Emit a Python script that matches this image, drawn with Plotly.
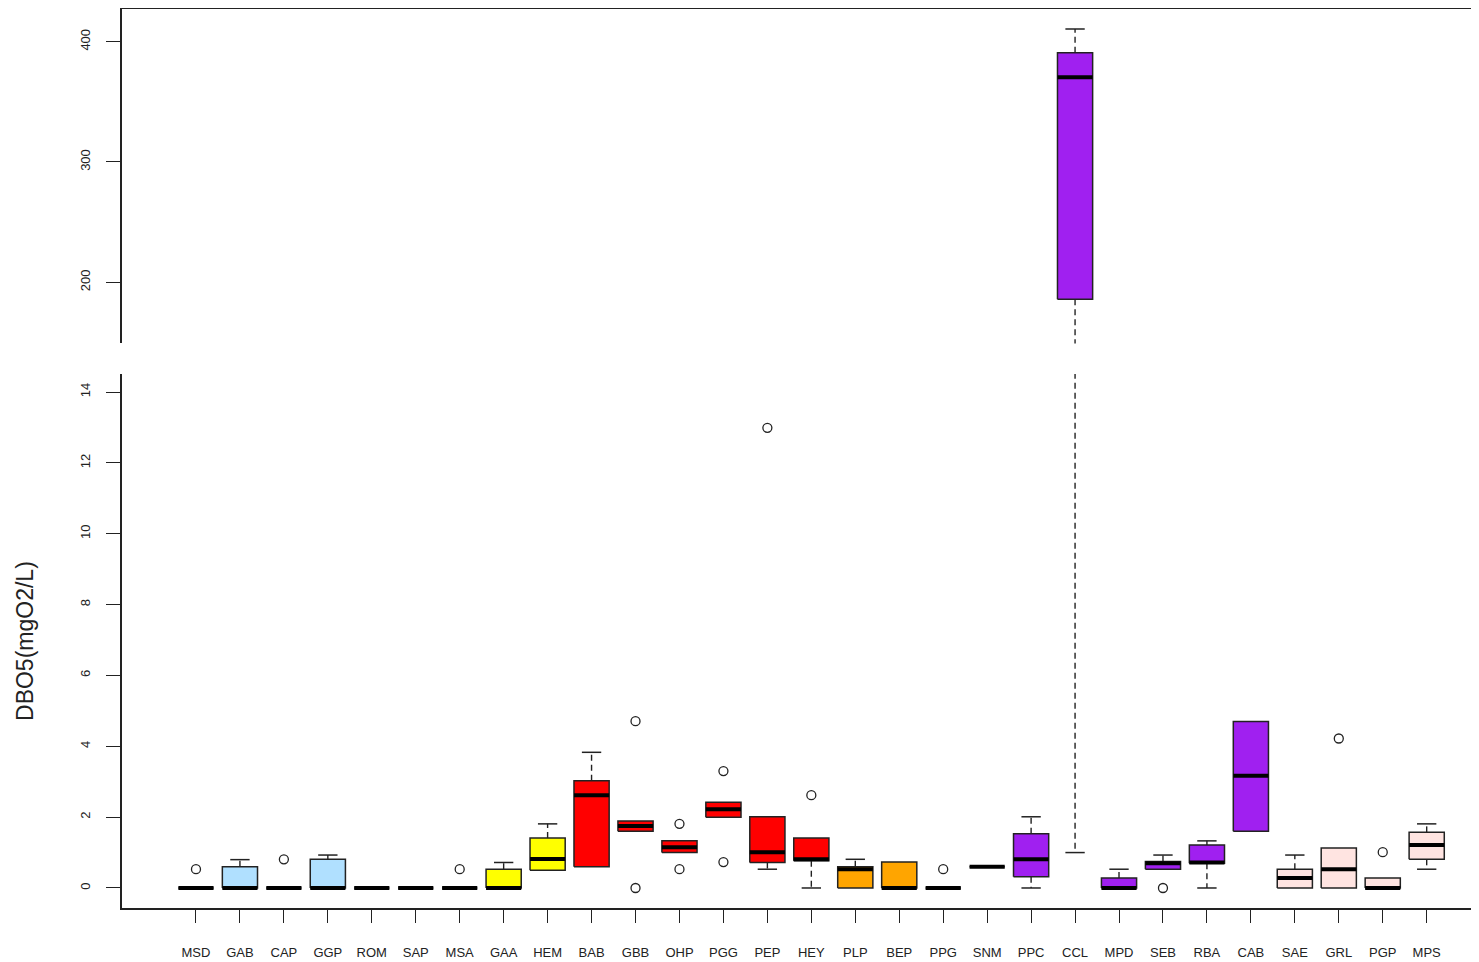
import plotly.graph_objects as go

# ---------------- data ----------------
categories = ["MSD", "GAB", "CAP", "GGP", "ROM", "SAP", "MSA", "GAA", "HEM", "BAB",
              "GBB", "OHP", "PGG", "PEP", "HEY", "PLP", "BEP", "PPG", "SNM", "PPC",
              "CCL", "MPD", "SEB", "RBA", "CAB", "SAE", "GRL", "PGP", "MPS"]

group = ["blue", "blue", "blue", "blue", "yellow", "yellow", "yellow", "yellow", "yellow", "red",
         "red", "red", "red", "red", "red", "orange", "orange", "orange", "purple", "purple",
         "purple", "purple", "purple", "purple", "purple", "pink", "pink", "pink", "pink"]

lower_whisker = [0, 0, 0, 0, 0, 0, 0, 0, 0.5, 0.6,
                 1.6, 1.0, 2.0, 0.53, 0, 0, 0, 0, 0.6, 0,
                 1.0, 0, 0.53, 0, 1.6, 0, 0, 0, 0.53]
q1 = [0, 0, 0, 0, 0, 0, 0, 0, 0.5, 0.6,
      1.6, 1.0, 2.0, 0.72, 0.77, 0, 0, 0, 0.6, 0.32,
      185.9, 0, 0.53, 0.7, 1.6, 0, 0, 0, 0.81]
median = [0, 0, 0, 0, 0, 0, 0, 0, 0.82, 2.62,
          1.75, 1.15, 2.22, 1.01, 0.81, 0.53, 0, 0, 0.6, 0.81,
          370.4, 0, 0.7, 0.72, 3.17, 0.28, 0.53, 0, 1.21]
q3 = [0, 0.6, 0, 0.81, 0, 0, 0, 0.53, 1.41, 3.03,
      1.89, 1.33, 2.42, 2.01, 1.41, 0.6, 0.73, 0, 0.6, 1.53,
      390.9, 0.28, 0.75, 1.21, 4.7, 0.53, 1.13, 0.28, 1.57]
upper_whisker = [0, 0.8, 0, 0.93, 0, 0, 0, 0.72, 1.81, 3.83,
                 1.89, 1.33, 2.42, 2.01, 1.41, 0.81, 0.73, 0, 0.6, 2.01,
                 410.6, 0.53, 0.93, 1.33, 4.7, 0.93, 1.13, 0.28, 1.81]
outliers = [[0.53], [], [0.81], [], [], [], [0.53], [], [], [],
            [4.71, 0], [1.81, 0.53], [3.3, 0.73], [12.99], [2.62], [], [], [0.53], [], [],
            [], [], [0], [], [], [], [4.22], [1.01], []]

lower_ticks = [0, 2, 4, 6, 8, 10, 12, 14]
upper_ticks = [200, 300, 400]
y_title = "DBO5(mgO2/L)"

# ---------------- styles ----------------
palette = {"blue": "#B0E0FF", "yellow": "#FFFF00", "red": "#FF0000",
           "orange": "#FFA500", "purple": "#A020F0", "pink": "#FFE4E1"}
INK = "#222222"
BOX_HALF = 0.4
STAPLE_HALF = 0.22
FONT = "Liberation Sans, Arial, sans-serif"

positions = list(range(1, len(categories) + 1))
x_range = [-0.683, 30.19]

fig = go.Figure()


def add_panel(xa, ya):
    # boxes, one trace per colour group
    for gname, colr in palette.items():
        xs, ys = [], []
        for i, p in enumerate(positions):
            if group[i] != gname:
                continue
            xs += [p - BOX_HALF, p + BOX_HALF, p + BOX_HALF, p - BOX_HALF, p - BOX_HALF, None]
            ys += [q1[i], q1[i], q3[i], q3[i], q1[i], None]
        if xs:
            fig.add_trace(go.Scatter(x=xs, y=ys, mode="lines", fill="toself", fillcolor=colr,
                                     line=dict(color=INK, width=1.5), xaxis=xa, yaxis=ya,
                                     hoverinfo="skip", showlegend=False))
    # whiskers (dashed) and staples
    wx, wy, sx, sy = [], [], [], []
    for i, p in enumerate(positions):
        if upper_whisker[i] > q3[i]:
            wx += [p, p, None]
            wy += [q3[i], upper_whisker[i], None]
            sx += [p - STAPLE_HALF, p + STAPLE_HALF, None]
            sy += [upper_whisker[i], upper_whisker[i], None]
        if lower_whisker[i] < q1[i]:
            wx += [p, p, None]
            wy += [q1[i], lower_whisker[i], None]
            sx += [p - STAPLE_HALF, p + STAPLE_HALF, None]
            sy += [lower_whisker[i], lower_whisker[i], None]
    fig.add_trace(go.Scatter(x=wx, y=wy, mode="lines", line=dict(color=INK, width=1.4, dash="6px,4px"),
                             xaxis=xa, yaxis=ya, hoverinfo="skip", showlegend=False))
    fig.add_trace(go.Scatter(x=sx, y=sy, mode="lines", line=dict(color=INK, width=1.5),
                             xaxis=xa, yaxis=ya, hoverinfo="skip", showlegend=False))
    # medians
    mx, my = [], []
    for i, p in enumerate(positions):
        mx += [p - BOX_HALF, p + BOX_HALF, None]
        my += [median[i], median[i], None]
    fig.add_trace(go.Scatter(x=mx, y=my, mode="lines", line=dict(color="black", width=4),
                             xaxis=xa, yaxis=ya, hoverinfo="skip", showlegend=False))
    # outliers
    ox, oy = [], []
    for i, p in enumerate(positions):
        for v in outliers[i]:
            ox.append(p)
            oy.append(v)
    fig.add_trace(go.Scatter(x=ox, y=oy, mode="markers",
                             marker=dict(symbol="circle-open", size=9, color=INK, line=dict(width=1.3)),
                             xaxis=xa, yaxis=ya, hoverinfo="skip", showlegend=False))


add_panel("x", "y")
add_panel("x2", "y2")

line_common = dict(showgrid=False, zeroline=False, showline=True, linecolor=INK, linewidth=1.5,
                   tickcolor=INK, tickwidth=1.4)
ytick_font = dict(family=FONT, size=13, color=INK)

fig.update_layout(
    width=1479, height=962,
    margin=dict(l=114, r=8, t=1, b=62),
    paper_bgcolor="white", plot_bgcolor="white",
    showlegend=False,
    xaxis=dict(domain=[0, 1], range=x_range, anchor="y", tickmode="array",
               tickvals=positions, ticktext=categories, ticks="outside", ticklen=13,
               ticklabelstandoff=19, tickfont=dict(family=FONT, size=13, color=INK), **line_common),
    yaxis=dict(domain=[0, 0.594], range=[-0.565, 14.51], anchor="x", tickmode="array",
               tickvals=lower_ticks, ticks="outside", ticklen=14, tickangle=-90,
               ticklabelstandoff=11, tickfont=ytick_font, **line_common),
    xaxis2=dict(domain=[0, 1], range=x_range, anchor="y2", side="top", showticklabels=False,
                ticks="", **line_common),
    yaxis2=dict(domain=[0.628, 1], range=[149.1, 427.2], anchor="x2", tickmode="array",
                tickvals=upper_ticks, ticks="outside", ticklen=14, tickangle=-90,
                ticklabelstandoff=11, tickfont=ytick_font, **line_common),
    annotations=[dict(text=y_title, xref="paper", yref="paper", x=-0.0715, y=0.297,
                      xanchor="center", yanchor="middle", textangle=-90, showarrow=False,
                      font=dict(family=FONT, size=23, color=INK))],
)

fig.write_html("out.html")
